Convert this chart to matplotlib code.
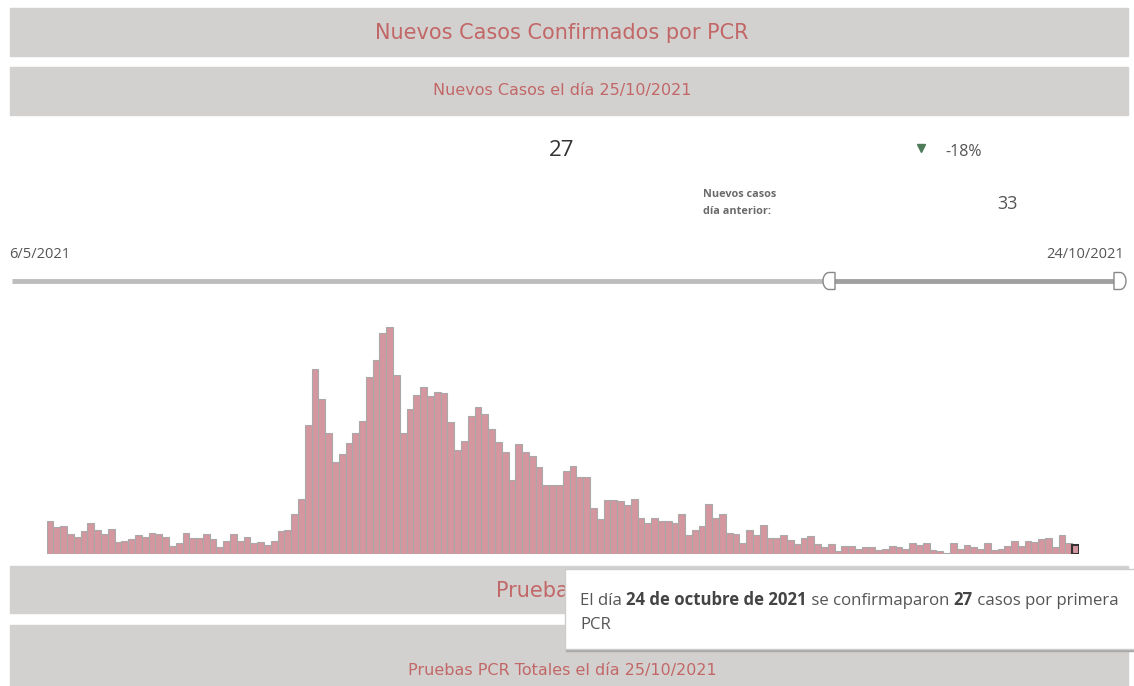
import matplotlib
matplotlib.use('Agg')
import matplotlib.pyplot as plt
import matplotlib.patches as patches
import numpy as np

plt.rcParams['font.family'] = ['Open Sans', 'DejaVu Sans']

# datos (casos nuevos por dia, ultimo = 24/10/2021)
casos = [103, 83, 87, 62, 54, 70, 95, 74, 62, 78,
         37, 41, 46, 58, 54, 66, 62, 54, 25, 33,
         66, 50, 50, 62, 46, 21, 41, 62, 41, 54,
         33, 37, 29, 41, 70, 74, 124, 170, 401, 573,
         480, 376, 286, 311, 344, 376, 413, 548, 600, 686,
         703, 556, 376, 450, 494, 518, 490, 502, 498, 409,
         323, 351, 429, 454, 433, 388, 347, 315, 229, 340,
         315, 303, 271, 213, 213, 213, 258, 274, 238, 238,
         144, 108, 168, 168, 164, 152, 171, 112, 95, 112,
         103, 103, 95, 123, 59, 74, 87, 156, 112, 123,
         66, 62, 34, 74, 59, 91, 51, 51, 59, 42,
         30, 51, 55, 30, 23, 30, 10, 26, 25, 16,
         21, 21, 12, 16, 25, 22, 16, 33, 29, 33,
         12, 8, 4, 33, 16, 29, 21, 16, 33, 12,
         16, 25, 41, 25, 41, 37, 46, 50, 21, 58,
         33, 27]

titulo = 'Nuevos Casos Confirmados por PCR'
subtitulo = 'Nuevos Casos el día 25/10/2021'
casos_hoy = '27'
cambio = '-18%'
etiqueta_ayer = 'Nuevos casos\ndía anterior:'
casos_ayer = '33'
fecha_inicio = '6/5/2021'
fecha_fin = '24/10/2021'
titulo2 = 'Pruebas PCR'
subtitulo2 = 'Pruebas PCR Totales el día 25/10/2021'
tooltip = [('El día ', 'normal'), ('24 de octubre de 2021', 'bold'),
           (' se confirmaparon ', 'normal'), ('27', 'bold'),
           (' casos por primera', 'normal')]
tooltip2 = 'PCR'

BAND = '#d3d1cf'
ROJO = '#c26767'
GRIS = '#555555'
TIT = ['DejaVu Sans']

W, H = 1134, 686
fig = plt.figure(figsize=(W / 100, H / 100), dpi=100)
bg = fig.add_axes([0, 0, 1, 1])
bg.set_xlim(0, W)
bg.set_ylim(H, 0)
bg.axis('off')


def banda(y0, y1):
    bg.add_patch(patches.Rectangle((10, y0), 1118, y1 - y0, color=BAND, zorder=1))


banda(8, 56)
bg.text(562, 33, titulo, ha='center', va='center', color=ROJO, fontsize=15,
        family=TIT, zorder=2)
banda(67, 115)
bg.text(562, 91, subtitulo, ha='center', va='center', color=ROJO, fontsize=11.5,
        family=TIT, zorder=2)

# indicadores
bg.text(562, 151, casos_hoy, ha='center', va='center', color='#333333', fontsize=16)
bg.plot(921, 148, marker='v', ms=6, color='#4e7c59', ls='none')
bg.text(945, 152, cambio, ha='left', va='center', color=GRIS, fontsize=11.5)
bg.text(703, 203, etiqueta_ayer, ha='left', va='center', color='#6a6a6a',
        fontsize=7.8, fontweight='bold', linespacing=1.75)
bg.text(1008, 204, casos_ayer, ha='center', va='center', color=GRIS, fontsize=13)

# slider de fechas
bg.text(9, 255, fecha_inicio, ha='left', va='center', color=GRIS, fontsize=10.5)
bg.text(1124, 255, fecha_fin, ha='right', va='center', color=GRIS, fontsize=10.5)
bg.plot([12, 828], [281, 281], color='#bdbdbd', lw=3.5, solid_capstyle='butt')
bg.plot([828, 1118], [281, 281], color='#a0a0a0', lw=3.5, solid_capstyle='butt')
th = np.linspace(np.pi / 2, 3 * np.pi / 2, 30)
izq = np.vstack([np.column_stack([829 + 6 * np.cos(th), 281 - 8.5 * np.sin(th)]),
                 [[835, 289.5], [835, 272.5]]])
bg.add_patch(patches.Polygon(izq, closed=True, fc='white', ec='#888888', lw=1, zorder=3))
der = np.vstack([np.column_stack([1120 - 6 * np.cos(th), 281 - 8.5 * np.sin(th)]),
                 [[1114, 289.5], [1114, 272.5]]])
bg.add_patch(patches.Polygon(der, closed=True, fc='white', ec='#888888', lw=1, zorder=3))

# bandas inferiores
banda(566, 613)
t2 = bg.text(562, 591, titulo2, ha='center', va='center', color=ROJO, fontsize=15,
             family=TIT, zorder=2)
t2.set_clip_path(patches.Rectangle((0, 0), 565 / W, 1, transform=fig.transFigure))
banda(625, 700)
bg.text(562, 670, subtitulo2, ha='center', va='center', color=ROJO, fontsize=11.5,
        family=TIT, zorder=2)

# tooltip
bg.add_patch(patches.Rectangle((566, 571), 570, 80, color='#a8a8a8', zorder=5))
bg.add_patch(patches.Rectangle((565, 569), 570, 80, fc='white', ec='#cccccc', lw=1, zorder=6))
t = bg.text(580, 609, tooltip[0][0], ha='left', va='bottom', color=GRIS,
            fontsize=12.1, zorder=7)
for txt, peso in tooltip[1:]:
    t = bg.annotate(txt, xy=(1, 0), xycoords=t, ha='left', va='bottom',
                    color='#444444' if peso == 'bold' else GRIS,
                    fontweight=peso, fontsize=12.1, zorder=7)
bg.text(580, 633, tooltip2, ha='left', va='bottom', color=GRIS, fontsize=12.1, zorder=7)

# grafico de barras
x0, x1 = 46.7, 1079.0
ax = fig.add_axes([x0 / W, (H - 554) / H, (x1 - x0) / W, 234 / H])
ax.patch.set_alpha(0)
pos = np.arange(len(casos))
bars = ax.bar(pos, casos, width=1.0, color='#d4979f', edgecolor='#a9a9a9', linewidth=0.8)
bars[-1].set_edgecolor('#333333')
bars[-1].set_linewidth(1.5)
ax.set_xlim(-0.5, len(casos) - 0.5)
ax.set_ylim(0, 725)
ax.axis('off')

fig.savefig('out.png', dpi=100)
